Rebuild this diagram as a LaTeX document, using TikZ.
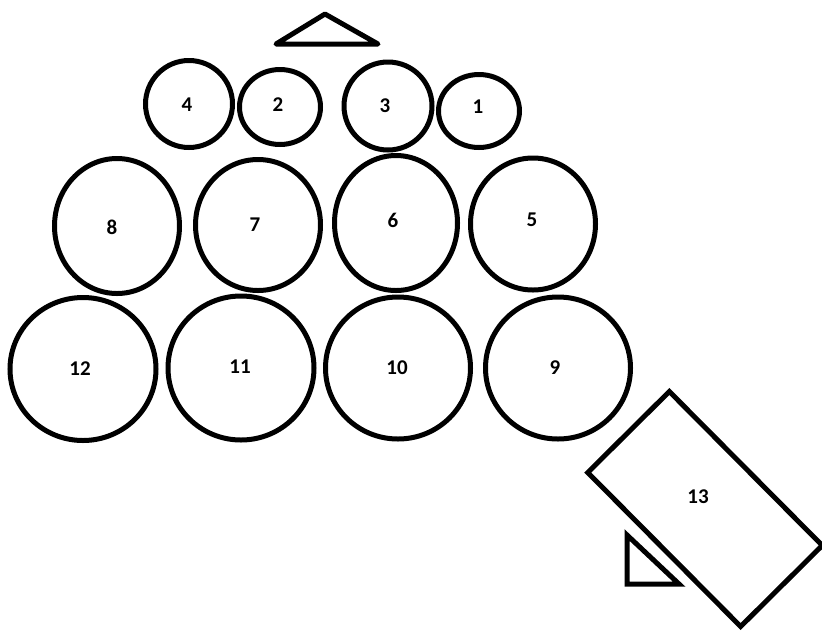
\documentclass[tikz,border=0pt]{standalone}
\usepackage{fontspec}
\setmainfont{Carlito}
\usetikzlibrary{shapes.geometric}
\tikzset{
  drum/.style={draw, ellipse, line width=5pt, inner sep=0pt, minimum width=#1},
  lbl/.style={font=\fontsize{21}{21}\selectfont\bfseries, inner sep=0pt},
  shp/.style={draw, line width=5pt, line join=miter},
}
\begin{document}
\begin{tikzpicture}[x=1pt,y=-1pt]
\useasboundingbox (0,0) rectangle (822,633);
% top triangle
\draw[shp, line join=round] (276,44) -- (325,14) -- (378,44) -- cycle;
% row 1
\node[drum=87pt, minimum height=87pt] (c4) at (189,104) {};
\node[drum=81pt, minimum height=75pt] (c2) at (280,107) {};
\node[drum=88pt, minimum height=88pt] (c3) at (388,106) {};
\node[drum=81pt, minimum height=73pt] (c1) at (479,111) {};
% row 2
\node[drum=125pt, minimum height=135pt] (c8) at (117,226) {};
\node[drum=125pt, minimum height=131pt] (c7) at (258,225) {};
\node[drum=123pt, minimum height=135pt] (c6) at (396,223) {};
\node[drum=125pt, minimum height=132pt] (c5) at (533,224) {};
% row 3
\node[drum=146pt, minimum height=143pt] (c12) at (83,369) {};
\node[drum=146pt, minimum height=144pt] (c11) at (241,368) {};
\node[drum=145pt, minimum height=142pt] (c10) at (398,368) {};
\node[drum=145pt, minimum height=142pt] (c9) at (558,368) {};
% rotated rectangle
\node[draw, line width=5pt, rectangle, inner sep=0pt, minimum width=217pt, minimum height=115pt, rotate=-45.2] (r13) at (705,509) {};
% small triangle
\draw[shp] (627,535) -- (627,584) -- (679,584) -- cycle;
% labels
\node[lbl] (t4) at (187,105) {4};
\node[lbl] (t2) at (278,105) {2};
\node[lbl] (t3) at (385,106) {3};
\node[lbl] (t1) at (478,107) {1};
\node[lbl] (t8) at (112,227) {8};
\node[lbl] (t7) at (255,225) {7};
\node[lbl] (t6) at (393,220) {6};
\node[lbl] (t5) at (532,220) {5};
\node[lbl] (t12) at (80,369) {12};
\node[lbl] (t11) at (240,367) {11};
\node[lbl] (t10) at (397,368) {10};
\node[lbl] (t9) at (555,368) {9};
\node[lbl] (t13) at (698,497) {13};
\end{tikzpicture}
\end{document}
